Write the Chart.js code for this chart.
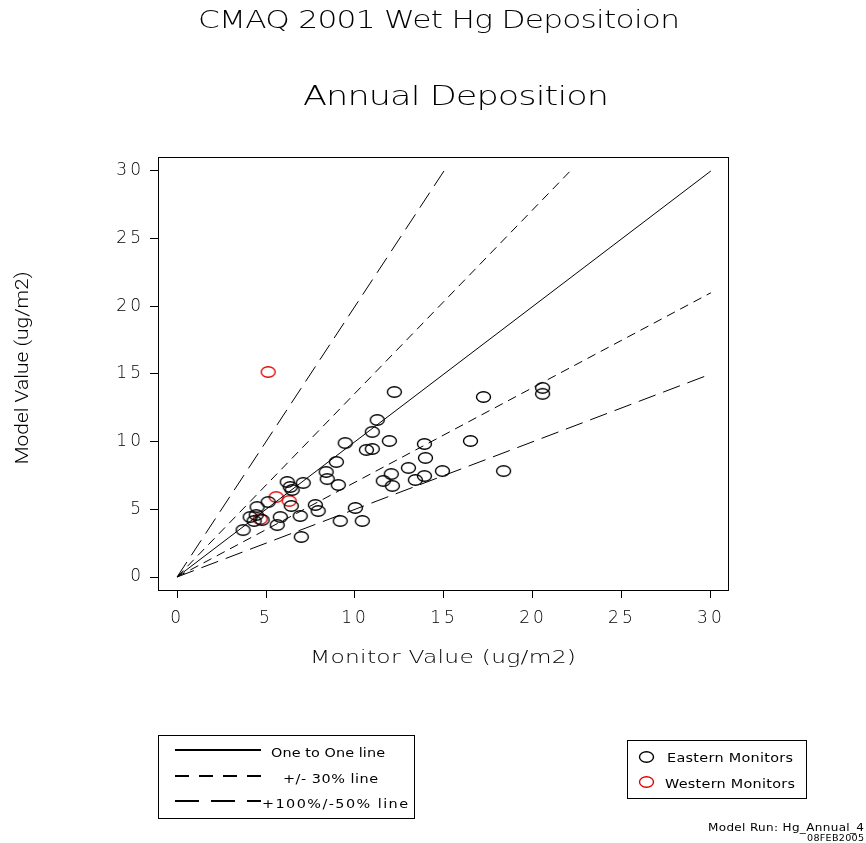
<!DOCTYPE html>
<html>
<head>
<meta charset="utf-8">
<script src="https://cdn.jsdelivr.net/npm/chart.js@4.4.1/dist/chart.umd.min.js"></script>
<style>
  html, body { margin: 0; padding: 0; background: #fff; }
  canvas { display: block; }
</style>
</head>
<body>
<canvas id="chartHg" width="866" height="843"></canvas>
<script>
// monitor (x) vs model (y), ug/m2
const eastX = [3.71, 4.11, 4.45, 4.50, 4.78, 4.33, 5.12, 5.63, 5.80, 6.19, 6.36, 6.47, 6.42, 6.92, 6.98, 7.09,
    7.77, 7.93, 8.38, 8.44, 8.95, 9.06, 9.17, 9.45, 10.02, 10.41, 10.64, 10.97, 10.97, 11.25, 11.59, 11.93,
    12.04, 12.10, 12.21, 13.00, 13.39, 13.90, 13.96, 13.90, 14.91, 16.49, 17.22, 18.35, 20.54, 20.54];
const eastY = [3.47, 4.43, 4.58, 5.17, 4.21, 4.14, 5.54, 3.84, 4.43, 7.02, 6.65, 6.43, 5.25, 4.51, 2.96, 6.95,
    5.32, 4.88, 7.76, 7.24, 8.50, 6.80, 4.14, 9.90, 5.10, 4.14, 9.39, 9.46, 10.72, 11.60, 7.10, 10.05,
    7.61, 6.73, 13.67, 8.06, 7.17, 9.83, 8.80, 7.46, 7.83, 10.05, 13.30, 7.83, 13.97, 13.53];
const westX = [5.12, 5.57, 6.30, 4.67];
const westY = [15.15, 5.91, 5.62, 4.29];

// reference lines
const oneToOneX = [0, 30], oneToOneY = [0, 30];
const plus30X = [0, 22.1], plus30Y = [0, 30];
const minus30X = [0, 30], minus30Y = [0, 21];
const plus100X = [0, 15], plus100Y = [0, 30];
const minus50X = [0, 30], minus50Y = [0, 15];

const xTicks = [0, 5, 10, 15, 20, 25, 30];
const yTicks = [0, 5, 10, 15, 20, 25, 30];

const FONT = '"DejaVu Sans", "Liberation Sans", sans-serif';

function pts(xs, ys) {
    return xs.map((x, i) => ({ x: x, y: ys[i] }));
}

// small open ellipse used as marker
function ellipseMarker(color) {
    const c = document.createElement("canvas");
    c.width = 17; c.height = 14;
    const g = c.getContext("2d");
    g.strokeStyle = color;
    g.lineWidth = 1.4;
    g.beginPath();
    g.ellipse(8.5, 7, 7, 5.3, 0, 0, Math.PI * 2);
    g.stroke();
    return c;
}

// wide, thin text: stretched sideways then spaced out to the given width
function spacedText(ctx, text, x, y, size, width, align, sx, weight) {
    ctx.save();
    ctx.font = (weight || 200) + " " + size + "px " + FONT;
    ctx.letterSpacing = "0px";
    const w0 = ctx.measureText(text).width * sx;
    const sp = (width - w0) / sx / (text.length - 1);
    let left = x;
    if (align === "center") left = x - width / 2;
    if (align === "right") left = x - width;
    ctx.translate(left, y);
    ctx.scale(sx, 1);
    ctx.letterSpacing = sp + "px";
    ctx.textAlign = "left";
    ctx.textBaseline = "alphabetic";
    ctx.fillStyle = "#000";
    ctx.fillText(text, 0, 0);
    ctx.restore();
}

function refLine(label, xs, ys, dash) {
    return {
        label: label,
        data: pts(xs, ys),
        showLine: true,
        borderColor: "#000",
        borderWidth: 1,
        borderDash: dash,
        pointRadius: 0,
        fill: false
    };
}

const extras = {
    id: "extras",
    beforeDraw(chart) {
        chart.ctx.letterSpacing = "3px";
    },
    afterDraw(chart) {
        const ctx = chart.ctx;
        const a = chart.chartArea;
        ctx.letterSpacing = "0px";
        ctx.save();
        ctx.strokeStyle = "#000";
        ctx.lineWidth = 1;
        ctx.strokeRect(Math.round(a.left) + 0.5, Math.round(a.top) + 0.5,
            Math.round(a.right - a.left), Math.round(a.bottom - a.top));
        ctx.restore();

        spacedText(ctx, "CMAQ 2001 Wet Hg Depositoion", 439, 28, 24, 482, "center", 1.3);
        spacedText(ctx, "Annual Deposition", 456, 105, 27, 306, "center", 1.3);
        spacedText(ctx, "Monitor Value (ug/m2)", 443, 663, 18, 266, "center", 1.3);

        // y axis title
        ctx.save();
        ctx.translate(28, 368);
        ctx.rotate(-Math.PI / 2);
        ctx.font = '300 19px Roboto, "Liberation Sans", sans-serif';
        const tw = ctx.measureText("Model Value (ug/m2)").width;
        ctx.scale(193 / tw, 1);
        ctx.textAlign = "center";
        ctx.fillStyle = "#000";
        ctx.fillText("Model Value (ug/m2)", 0, 0);
        ctx.restore();

        // line legend
        ctx.save();
        ctx.strokeStyle = "#000";
        ctx.lineWidth = 1;
        ctx.strokeRect(158.5, 735.5, 256, 83);
        ctx.lineWidth = 2;
        const rows = [
            { y: 750, dash: [], text: "One to One line", tx: 271, tw: 114 },
            { y: 776, dash: [14, 10], text: "+/- 30% line", tx: 283, tw: 95 },
            { y: 801, dash: [24, 12], text: "+100%/-50% line", tx: 262, tw: 146 }
        ];
        rows.forEach(r => {
            ctx.setLineDash(r.dash);
            ctx.beginPath();
            ctx.moveTo(175, r.y);
            ctx.lineTo(261, r.y);
            ctx.stroke();
            spacedText(ctx, r.text, r.tx, r.y + 7, 12, r.tw, "left", 1.2, 400);
        });
        ctx.setLineDash([]);

        // marker legend
        ctx.lineWidth = 1;
        ctx.strokeRect(627.5, 740.5, 179, 58);
        ctx.drawImage(ellipseMarker("#000"), 638, 750);
        ctx.drawImage(ellipseMarker("#e00000"), 638, 775);
        spacedText(ctx, "Eastern Monitors", 667, 762, 12, 126, "left", 1.2, 400);
        spacedText(ctx, "Western Monitors", 665, 788, 12, 130, "left", 1.2, 400);
        ctx.restore();

        spacedText(ctx, "Model Run: Hg_Annual_4", 864, 831, 10, 156, "right", 1.2, 400);
        spacedText(ctx, "08FEB2005", 864, 841, 8, 57, "right", 1.2, 400);
    }
};

const axisCommon = {
    type: "linear",
    border: { display: false },
    grid: { drawOnChartArea: false, drawTicks: true, tickLength: 8, color: "#000", lineWidth: 1 },
    ticks: { color: "#000", font: { family: FONT, size: 17, weight: 200 }, maxRotation: 0 }
};

new Chart(document.getElementById("chartHg").getContext("2d"), {
    type: "scatter",
    data: {
        datasets: [
            refLine("One to One line", oneToOneX, oneToOneY, []),
            refLine("+30%", plus30X, plus30Y, [9, 6]),
            refLine("-30%", minus30X, minus30Y, [9, 6]),
            refLine("+100%", plus100X, plus100Y, [18, 8]),
            refLine("-50%", minus50X, minus50Y, [18, 8]),
            {
                label: "Eastern Monitors",
                data: pts(eastX, eastY),
                pointStyle: ellipseMarker("#000"),
                pointRadius: 7
            },
            {
                label: "Western Monitors",
                data: pts(westX, westY),
                pointStyle: ellipseMarker("#e00000"),
                pointRadius: 7
            }
        ]
    },
    options: {
        responsive: false,
        animation: false,
        layout: { padding: { top: 157, left: 58, right: 138, bottom: 213 } },
        plugins: { legend: { display: false }, tooltip: { enabled: false } },
        scales: {
            x: Object.assign({}, axisCommon, {
                min: -1.07, max: 30.96,
                afterBuildTicks: s => { s.ticks = xTicks.map(v => ({ value: v })); },
                afterFit: s => { s.height = 40; },
                ticks: Object.assign({}, axisCommon.ticks, { padding: 10 })
            }),
            y: Object.assign({}, axisCommon, {
                min: -0.96, max: 31.03,
                afterBuildTicks: s => { s.ticks = yTicks.map(v => ({ value: v })); },
                afterFit: s => { s.width = 100; },
                ticks: Object.assign({}, axisCommon.ticks, { padding: 6 })
            })
        }
    },
    plugins: [extras]
});
</script>
</body>
</html>
